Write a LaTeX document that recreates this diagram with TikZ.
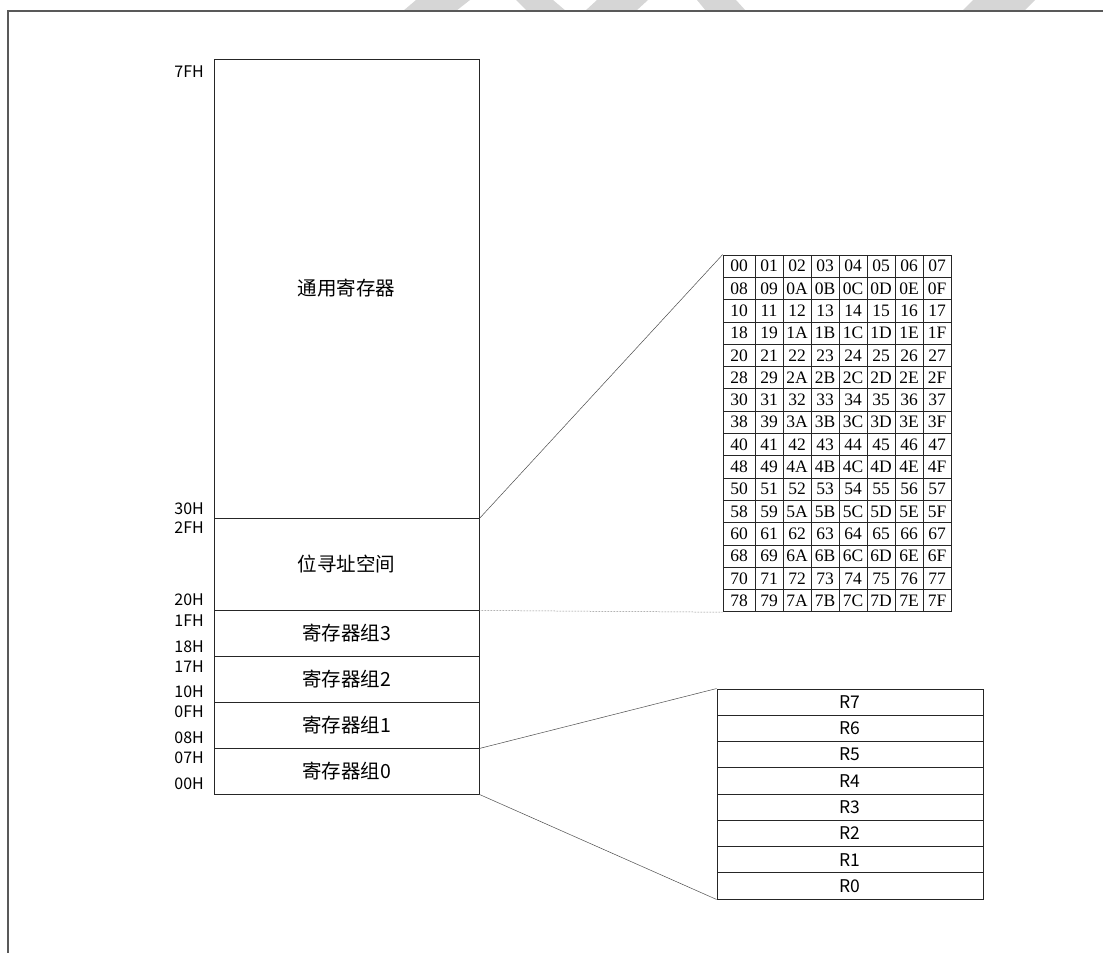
\documentclass[tikz,border=0pt]{standalone}
\usepackage{fontspec}
\setmainfont{Liberation Serif}
\newfontfamily\cjkfont{Noto Sans CJK SC}
\usetikzlibrary{calc}
\tikzset{
  memblock/.style={draw=black!85, line width=0.9pt, minimum width=265pt, inner sep=0pt, font=\cjkfont\fontsize{19.5}{21}\selectfont},
  addrlabel/.style={anchor=east, inner sep=0pt, font=\cjkfont\fontsize{16}{18}\selectfont},
  bitcell/.style={draw=black!85, line width=0.8pt, minimum height=22.3pt, inner sep=0pt, font=\fontsize{17.5}{19}\selectfont},
  regcell/.style={draw=black!85, line width=0.9pt, minimum width=266pt, minimum height=26.25pt, inner sep=0pt, font=\cjkfont\fontsize{17.5}{19}\selectfont},
  zoomline/.style={draw=black!70, line width=0.5pt},
  pageframe/.style={draw=black!65, line width=1.6pt},
  watermark/.style={fill=black!16, draw=none},
}
\begin{document}
\begin{tikzpicture}[x=1pt, y=-1pt]
  \useasboundingbox (0,0) rectangle (1103,953);

  % watermark pieces and page frame
  \fill[watermark] (403,11) -- (456,11) -- (470,0) -- (416,0) -- cycle;
  \fill[watermark] (516,0) -- (553,0) -- (566,11) -- (527,11) -- cycle;
  \fill[watermark] (585,11) -- (636,11) -- (648,0) -- (597,0) -- cycle;
  \fill[watermark] (697,0) -- (736,0) -- (746,11) -- (706,11) -- cycle;
  \fill[watermark] (962,11) -- (1024,11) -- (1035,0) -- (973,0) -- cycle;
  \draw[pageframe] (8,953) -- (8,11) -- (1103,11);

  % internal RAM map
  \node[memblock, minimum height=459pt] (gen) at (346.5,288.5) {通用寄存器};
  \node[memblock, minimum height=92pt] (bitarea) at (346.5,564) {位寻址空间};
  \node[memblock, minimum height=46pt] (bank3) at (346.5,633) {寄存器组3};
  \node[memblock, minimum height=46pt] (bank2) at (346.5,679) {寄存器组2};
  \node[memblock, minimum height=46pt] (bank1) at (346.5,725) {寄存器组1};
  \node[memblock, minimum height=46pt] (bank0) at (346.5,771) {寄存器组0};

  \foreach \txt/\ypos in {7FH/72, 30H/509, 2FH/528, 20H/600, 1FH/621, 18H/647,
                          17H/667, 10H/692, 0FH/712, 08H/738, 07H/758, 00H/784}
    \node[addrlabel] (addr\txt) at (204,\ypos) {\txt};

  % bit addresses
  \foreach \hi in {0,...,7}{
    \foreach \lo [count=\n from 0] in {0,1,2,3,4,5,6,7,8,9,A,B,C,D,E,F}{
      \pgfmathtruncatemacro\row{2*\hi+(\n>7)}
      \pgfmathtruncatemacro\col{mod(\n,8)}
      \pgfmathsetmacro\cx{\col==0 ? 739 : 769+28*(\col-1)}
      \pgfmathsetmacro\cw{\col==0 ? 32 : 28}
      \node[bitcell, minimum width=\cw] (bit\hi\lo) at (\cx,266.15+22.3*\row) {\hi\lo};
    }
  }

  % working registers
  \foreach \r [count=\i from 0] in {7,...,0}
    \node[regcell] (reg\r) at (850,702.125+26.25*\i) {R\r};

  \draw[zoomline] (gen.south east) -- (bit00.north west);
  \draw[zoomline, densely dotted] (bitarea.south east) -- (bit78.south west);
  \draw[zoomline] (bank1.south east) -- (reg7.north west);
  \draw[zoomline] (bank0.south east) -- (reg0.south west);
\end{tikzpicture}
\end{document}
